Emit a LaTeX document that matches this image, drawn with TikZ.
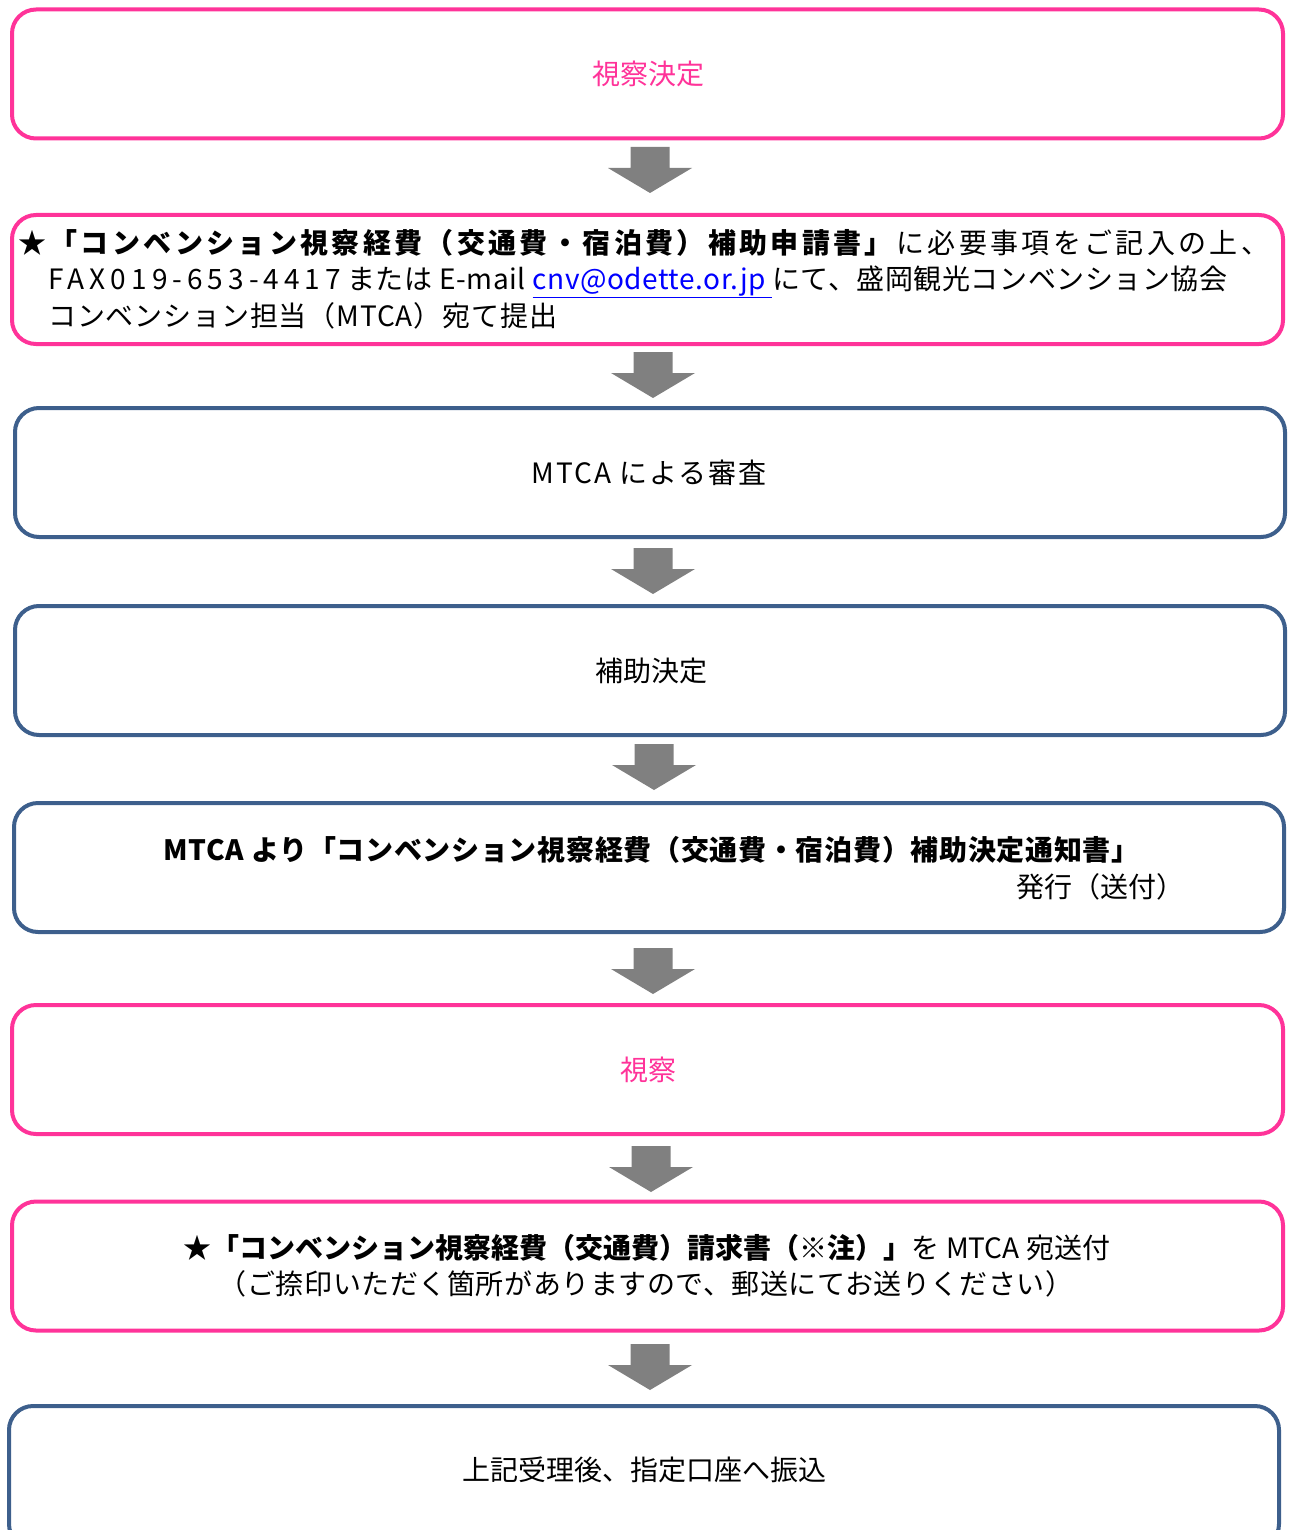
\documentclass[tikz,border=0pt]{standalone}
\usepackage{fontspec}
\setmainfont{Noto Sans CJK JP}
\definecolor{pinkc}{RGB}{255,51,153}
\definecolor{bluec}{RGB}{61,95,140}
\definecolor{arrowc}{RGB}{128,128,128}
\definecolor{linkc}{RGB}{0,0,255}
\begin{document}
\begin{tikzpicture}[x=0.75pt,y=-0.75pt,
  font=\fontsize{21}{25}\selectfont,
  pinkbox/.style={draw=pinkc, line width=3pt, rounded corners=18pt, rectangle, inner sep=0pt, minimum width=953.25pt, minimum height=96.75pt},
  bluebox/.style={draw=bluec, line width=3pt, rounded corners=18pt, rectangle, inner sep=0pt, minimum width=952.5pt, minimum height=96.75pt},
  t/.style={inner sep=0pt, text height=0.88em, text depth=0.12em},
  pt/.style={t, text=pinkc},
  garrow/.pic={\fill[arrowc] (-19.5,0) -- (19.5,0) -- (19.5,21) -- (42,21) -- (0,46) -- (-42,21) -- (-19.5,21) -- cycle;}
]
\useasboundingbox (0,0) rectangle (1291,1530);

% boxes
\node[pinkbox] (b1) at (647.5,74) {};
\node[pinkbox] (b2) at (647.5,279.5) {};
\node[bluebox] (b3) at (650,472.5) {};
\node[bluebox] (b4) at (650,670.5) {};
\node[bluebox] (b5) at (649,867.5) {};
\node[pinkbox] (b6) at (647.5,1069.5) {};
\node[pinkbox] (b7) at (647.5,1266) {};
\node[bluebox, minimum height=106.5pt] (b8) at (644,1477) {};

% arrows
\pic at (650,147) {garrow};
\pic at (653,352) {garrow};
\pic at (653,548) {garrow};
\pic at (654,744) {garrow};
\pic at (653,948) {garrow};
\pic at (651,1146) {garrow};
\pic at (650,1344) {garrow};

% texts
\node[pt] (t1) at (648,79) {視察決定};

\node[t, anchor=west] (t2a) at (18,248) {\addfontfeature{LetterSpace=12}\textbf{★「コンベンション視察経費（交通費・宿泊費）補助申請書」}に必要事項をご記入の上、};
\node[t, anchor=west] (t2b) at (48,284) {{\addfontfeature{LetterSpace=18}FAX019-653-4417} {\addfontfeature{LetterSpace=2}または E-mail {\color{linkc}\underline{cnv@odette.or.jp\ }}にて、盛岡観光コンベンション協会}};
\node[t, anchor=west] (t2c) at (48,321) {\addfontfeature{LetterSpace=3}コンベンション担当（MTCA）宛て提出};

\node[t] (t3) at (649,478) {\addfontfeature{LetterSpace=7}MTCA による審査};
\node[t] (t4) at (651,676) {補助決定};

\node[t, anchor=west] (t5a) at (163,855) {\addfontfeature{LetterSpace=2.5}\textbf{MTCA より「コンベンション視察経費（交通費・宿泊費）補助決定通知書」}};
\node[t, anchor=west] (t5b) at (1016,892) {発行（送付）};

\node[pt] (t6) at (648,1075) {視察};

\node[t] (t7a) at (647,1253) {\textbf{★「コンベンション視察経費（交通費）請求書（※注）」}を MTCA 宛送付};
\node[t] (t7b) at (646,1289) {\addfontfeature{LetterSpace=2}（ご捺印いただく箇所がありますので、郵送にてお送りください）};

\node[t] (t8) at (644,1475) {上記受理後、指定口座へ振込};
\end{tikzpicture}
\end{document}
